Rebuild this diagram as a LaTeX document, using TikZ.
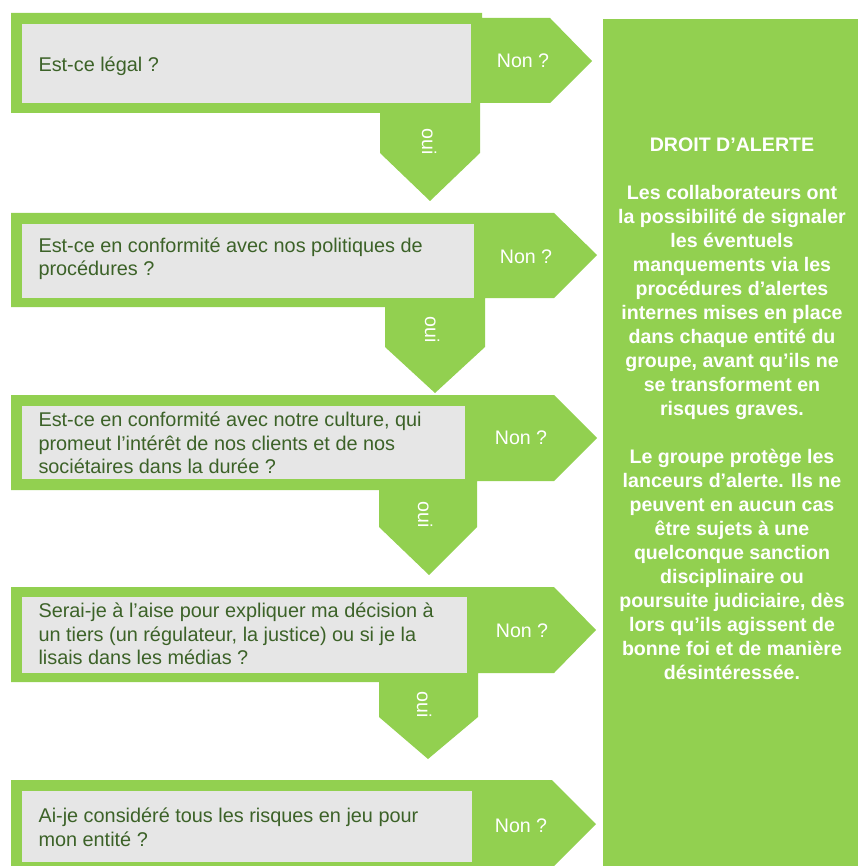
\documentclass[tikz,border=0pt]{standalone}
\usepackage{fontspec}
\setmainfont{Liberation Sans}

\definecolor{vert}{RGB}{146,208,80}
\definecolor{gris}{RGB}{230,230,230}
\definecolor{texte}{RGB}{60,98,40}

\tikzset{every picture/.style={line width=0.75pt}}
\tikzset{
  fleche/.style={fill=vert, draw=none},
  cadre/.style={fill=gris, draw=none},
  question/.style={anchor=west, inner sep=0.75pt, align=left, text=texte, font=\fontsize{14.9}{17.6}\selectfont},
  reponse/.style={inner sep=0.75pt, text=white, font=\fontsize{14.7}{17.6}\selectfont},
}

\begin{document}
\begin{tikzpicture}[x=0.75pt,y=0.75pt,yscale=-1,xscale=1]
\useasboundingbox (0,0) rectangle (858,866); %set diagram to 858 x 866

%Shape: Arrow 1
\draw [fleche] (11,13) -- (482,13) -- (482,18) -- (550,18) -- (592,61) -- (550,103) -- (480,103) -- (480,153) -- (430,201) -- (380,153) -- (380,113) -- (11,113) -- cycle ;
%Shape: Rectangle 1
\draw [cadre] (22,24) -- (471,24) -- (471,103) -- (22,103) -- cycle ;
%Shape: Arrow 2
\draw [fleche] (11,213) -- (554,213) -- (597,255) -- (554,298) -- (485,298) -- (485,347) -- (435,393) -- (385,347) -- (385,307) -- (11,307) -- cycle ;
%Shape: Rectangle 2
\draw [cadre] (22,224) -- (474,224) -- (474,298) -- (22,298) -- cycle ;
%Shape: Arrow 3
\draw [fleche] (11,395) -- (554,395) -- (597,438) -- (554,481) -- (477,481) -- (477,527) -- (429,575) -- (379,527) -- (379,490) -- (11,490) -- cycle ;
%Shape: Rectangle 3
\draw [cadre] (22,406) -- (465,406) -- (465,479) -- (22,479) -- cycle ;
%Shape: Arrow 4
\draw [fleche] (11,587) -- (554,587) -- (596,630) -- (554,673) -- (478,673) -- (478,717) -- (428,759) -- (379,717) -- (379,682) -- (11,682) -- cycle ;
%Shape: Rectangle 4
\draw [cadre] (22,597) -- (467,597) -- (467,673) -- (22,673) -- cycle ;
%Shape: Arrow 5
\draw [fleche] (11,780) -- (552,780) -- (596,824) -- (554,866) -- (11,866) -- cycle ;
%Shape: Rectangle 5
\draw [cadre] (22,791) -- (472,791) -- (472,862) -- (22,862) -- cycle ;

%Shape: Rectangle droit d'alerte
\draw [fleche] (603,19) -- (858,19) -- (858,866) -- (603,866) -- cycle ;

% Text Node
\draw (37,66) node (q1) [question] {Est-ce légal ?};
% Text Node
\draw (37,258.5) node (q2) [question] {Est-ce en conformité avec nos politiques de\\procédures ?};
% Text Node
\draw (37,443) node (q3) [question] {Est-ce en conformité avec notre culture, qui\\promeut l’intérêt de nos clients et de nos\\sociétaires dans la durée ?};
% Text Node
\draw (37,634) node (q4) [question] {Serai-je à l’aise pour expliquer ma décision à\\un tiers (un régulateur, la justice) ou si je la\\lisais dans les médias ?};
% Text Node
\draw (37,827.5) node (q5) [question] {Ai-je considéré tous les risques en jeu pour\\mon entité ?};

% Text Node
\draw (523,61) node (non1) [reponse] {Non ?};
% Text Node
\draw (526,257) node (non2) [reponse] {Non ?};
% Text Node
\draw (521,438) node (non3) [reponse] {Non ?};
% Text Node
\draw (522,631) node (non4) [reponse] {Non ?};
% Text Node
\draw (521,826) node (non5) [reponse] {Non ?};

% Text Node
\draw (429,142) node (oui1) [reponse, rotate=-90] {oui};
% Text Node
\draw (432,330) node (oui2) [reponse, rotate=-90] {oui};
% Text Node
\draw (425,515) node (oui3) [reponse, rotate=-90] {oui};
% Text Node
\draw (424,705) node (oui4) [reponse, rotate=-90] {oui};

% Text Node
\draw (732,408.5) node (alerte) [inner sep=0.75pt, align=center, text=white, font=\fontsize{14.7}{18}\selectfont\bfseries] {DROIT D’ALERTE\\[18pt]Les collaborateurs ont\\la possibilité de signaler\\les éventuels\\manquements via les\\procédures d’alertes\\internes mises en place\\dans chaque entité du\\groupe, avant qu’ils ne\\se transforment en\\risques graves.\\[18pt]Le groupe protège les\\lanceurs d’alerte. Ils ne\\peuvent en aucun cas\\être sujets à une\\quelconque sanction\\disciplinaire ou\\poursuite judiciaire, dès\\lors qu’ils agissent de\\bonne foi et de manière\\désintéressée.};

\end{tikzpicture}
\end{document}
